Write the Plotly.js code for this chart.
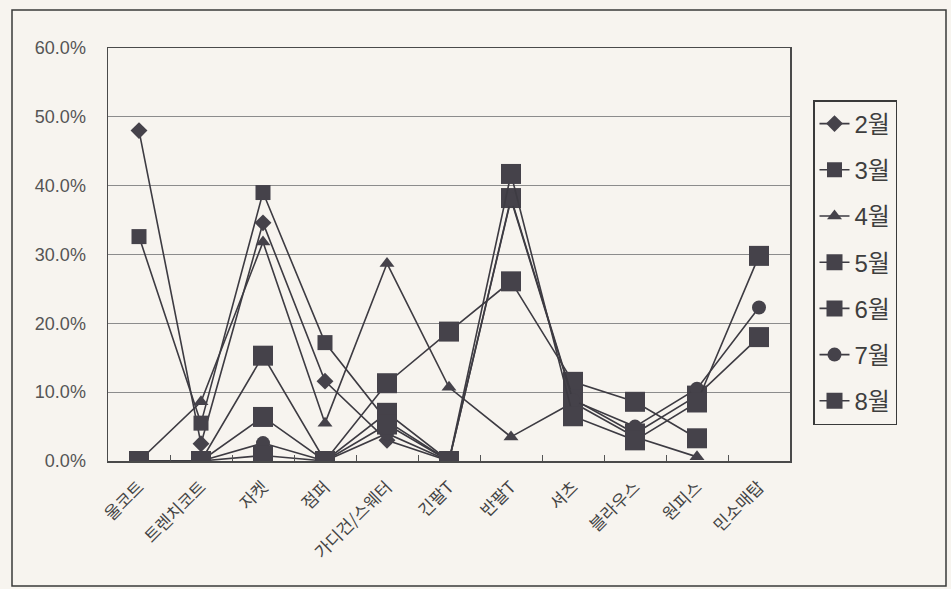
<!DOCTYPE html>
<html>
<head>
<meta charset="utf-8">
<script src="https://cdn.plot.ly/plotly-3.0.1.min.js"></script>
<style>html,body{margin:0;padding:0;background:#f7f4ef;}</style>
</head>
<body>
<div id="chart" style="width:951px;height:589px;"></div>
<script>
const categories = ['울코트','트렌치코트','자켓','점퍼','가디건/스웨터','긴팔T','반팔T','셔츠','블라우스','원피스','민소매탑'];
const seriesNames = ['2월','3월','4월','5월','6월','7월','8월'];
const feb = [0.480, 0.025, 0.346, 0.116, 0.030, 0.0, null, null, null, null, null];
const mar = [0.326, 0.055, 0.390, 0.172, 0.058, 0.0, null, null, null, null, null];
const apr = [0.0, 0.086, 0.318, 0.055, 0.287, 0.107, 0.035, 0.085, 0.035, 0.006, null];
const may = [0.0, 0.0, 0.153, 0.0, 0.113, 0.188, 0.261, 0.115, 0.086, 0.033, null];
const jun = [0.0, 0.0, 0.064, 0.0, 0.070, 0.0, 0.382, 0.090, 0.040, 0.095, 0.180];
const jul = [0.0, 0.0, 0.026, 0.0, 0.040, 0.0, 0.380, 0.088, 0.050, 0.105, 0.223];
const aug = [0.0, 0.0, 0.008, 0.0, 0.053, 0.0, 0.417, 0.065, 0.030, 0.085, 0.298];
const seriesValues = [feb, mar, apr, may, jun, jul, aug];
const yTickVals = [0, 0.1, 0.2, 0.3, 0.4, 0.5, 0.6];

const symbols = ['diamond','square','triangle-up','square','square','circle','square'];
const sizes = [13, 15, 13, 20, 20, 14, 20];
const lineCol = '#3d3b42';
const markCol = '#45424a';

const traces = seriesValues.map((vals, i) => ({
  type: 'scatter',
  mode: 'lines+markers',
  name: seriesNames[i],
  x: categories,
  y: vals,
  legendgroup: 'g' + i,
  line: {color: lineCol, width: 1.6},
  marker: {symbol: symbols[i], size: sizes[i], color: markCol, line: {width: 0}},
  connectgaps: false,
  hoverinfo: 'x+y+name'
}));

const L = 108, R = 790, T = 48, B = 461;
const W = R - L, H = B - T;
const px = v => (v - L) / W;
const py = v => (B - v) / H;

const layout = {
  width: 951, height: 589, autosize: false,
  margin: {l: L, r: 951 - R, t: T, b: 589 - B, pad: 0},
  paper_bgcolor: '#f7f4ef',
  plot_bgcolor: '#f7f4ef',
  font: {family: '"Liberation Sans", "Noto Sans CJK KR", sans-serif', color: '#4a4a4a'},
  showlegend: true,
  legend: {
    x: px(813), y: py(100), xanchor: 'left', yanchor: 'top',
    bordercolor: '#3a3a3a', borderwidth: 1.5, bgcolor: '#f7f4ef',
    font: {size: 24, color: '#3e3e3e', family: '"Liberation Sans", "Noto Sans CJK KR", sans-serif'},
    traceorder: 'grouped', tracegroupgap: 12, itemsizing: 'trace',
    entrywidth: 118, entrywidthmode: 'pixels'
  },
  xaxis: {
    type: 'category', range: [-0.5, 10.5],
    showline: true, linecolor: '#4a4a4a', linewidth: 1.5, mirror: true,
    ticks: 'inside', ticklen: 6, tickcolor: '#555', tickson: 'boundaries',
    tickangle: -45, showgrid: false, zeroline: false, ticklabelstandoff: 8,
    tickfont: {size: 17, color: '#444', family: '"Noto Sans CJK KR", sans-serif'}
  },
  yaxis: {
    range: [0, 0.6], tickvals: yTickVals, tickformat: '.1%',
    showline: true, linecolor: '#4a4a4a', linewidth: 1.5, mirror: true,
    showgrid: true, gridcolor: '#8c8c8c', gridwidth: 1, zeroline: false,
    ticks: '', ticklabelstandoff: 17,
    tickfont: {size: 18, color: '#555'}
  },
  shapes: [{
    type: 'rect', xref: 'paper', yref: 'paper',
    x0: px(12), x1: px(946), y0: py(586), y1: py(10),
    line: {color: '#3a3a3a', width: 1.5}, fillcolor: 'rgba(0,0,0,0)', layer: 'below'
  }]
};

Plotly.newPlot('chart', traces, layout, {displayModeBar: false, staticPlot: true});
</script>
</body>
</html>
